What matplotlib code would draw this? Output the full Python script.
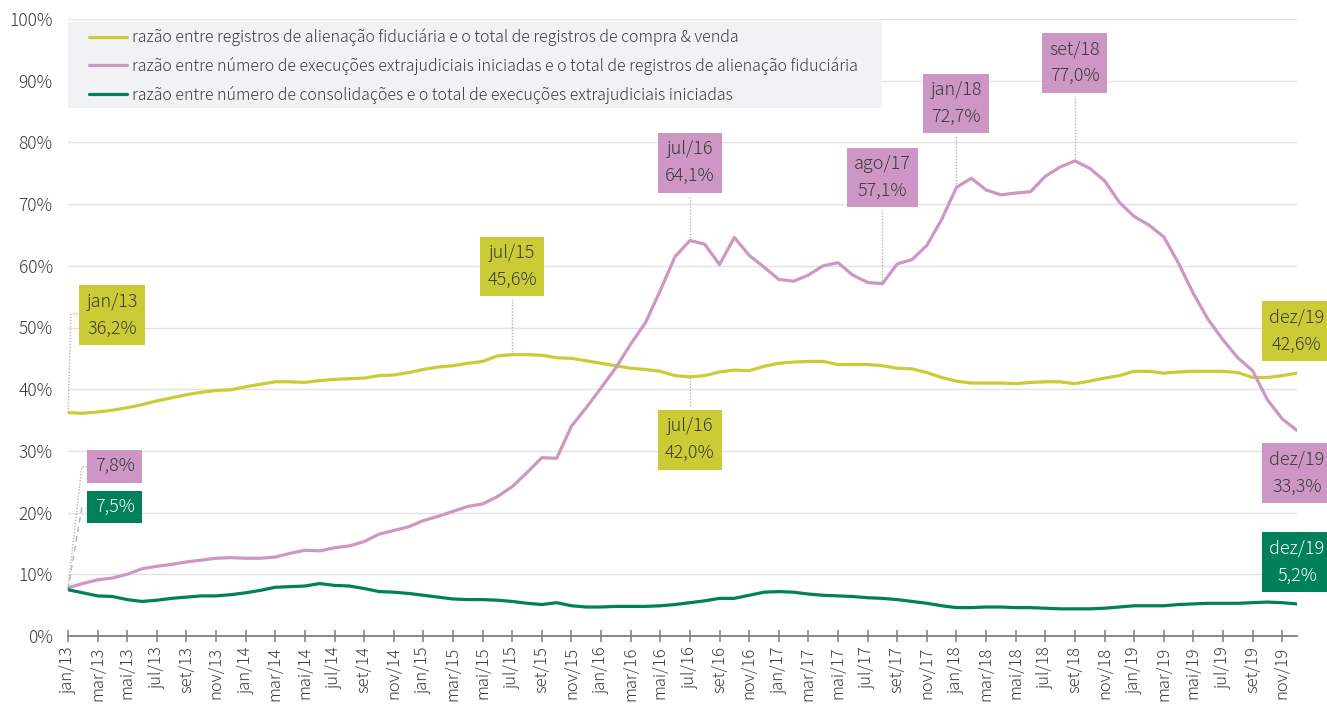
import matplotlib
matplotlib.use("Agg")
import matplotlib.pyplot as plt
from matplotlib.patches import Rectangle
import numpy as np

plt.rcParams['font.family'] = ['Noto Sans CJK JP', 'DejaVu Sans']
plt.rcParams['font.weight'] = 'light'

# Monthly series, jan/2013 .. dez/2019 (percent)
meses = ['jan', 'fev', 'mar', 'abr', 'mai', 'jun', 'jul', 'ago', 'set', 'out', 'nov', 'dez']
anos = list(range(13, 20))
rotulos = [f"{m}/{a}" for a in anos for m in meses]

alienacao_compra = [
    36.2, 36.1, 36.3, 36.6, 37.0, 37.5, 38.1, 38.6, 39.1, 39.5, 39.8, 39.9,
    40.4, 40.8, 41.2, 41.2, 41.1, 41.4, 41.6, 41.7, 41.8, 42.2, 42.3, 42.7,
    43.2, 43.6, 43.8, 44.2, 44.5, 45.4, 45.6, 45.6, 45.5, 45.1, 45.0, 44.6,
    44.2, 43.8, 43.4, 43.2, 42.9, 42.2, 42.0, 42.2, 42.8, 43.1, 43.0, 43.7,
    44.2, 44.4, 44.5, 44.5, 44.0, 44.0, 44.0, 43.8, 43.4, 43.3, 42.7, 41.9,
    41.3, 41.0, 41.0, 41.0, 40.9, 41.1, 41.2, 41.2, 40.9, 41.3, 41.8, 42.2,
    42.9, 42.9, 42.6, 42.8, 42.9, 42.9, 42.9, 42.7, 41.9, 41.9, 42.2, 42.6,
]

execucoes_alienacao = [
    7.8, 8.5, 9.1, 9.4, 10.0, 10.9, 11.3, 11.6, 12.0, 12.3, 12.6, 12.7,
    12.6, 12.6, 12.8, 13.4, 13.9, 13.8, 14.3, 14.6, 15.3, 16.5, 17.1, 17.7,
    18.7, 19.4, 20.2, 21.0, 21.4, 22.6, 24.2, 26.5, 28.9, 28.8, 34.0, 37.0,
    40.2, 43.5, 47.3, 50.8, 56.0, 61.5, 64.1, 63.5, 60.2, 64.6, 61.7, 59.8,
    57.8, 57.5, 58.5, 60.0, 60.5, 58.5, 57.3, 57.1, 60.3, 61.0, 63.3, 67.5,
    72.7, 74.2, 72.3, 71.5, 71.8, 72.0, 74.5, 76.0, 77.0, 75.8, 73.8, 70.3,
    68.0, 66.6, 64.7, 60.4, 55.5, 51.3, 48.0, 45.1, 43.0, 38.3, 35.2, 33.3,
]

consolidacoes_execucoes = [
    7.5, 7.0, 6.5, 6.4, 5.9, 5.6, 5.8, 6.1, 6.3, 6.5, 6.5, 6.7,
    7.0, 7.4, 7.9, 8.0, 8.1, 8.5, 8.2, 8.1, 7.7, 7.2, 7.1, 6.9,
    6.6, 6.3, 6.0, 5.9, 5.9, 5.8, 5.6, 5.3, 5.1, 5.4, 4.9, 4.7,
    4.7, 4.8, 4.8, 4.8, 4.9, 5.1, 5.4, 5.7, 6.1, 6.1, 6.6, 7.1,
    7.2, 7.1, 6.8, 6.6, 6.5, 6.4, 6.2, 6.1, 5.9, 5.6, 5.3, 4.9,
    4.6, 4.6, 4.7, 4.7, 4.6, 4.6, 4.5, 4.4, 4.4, 4.4, 4.5, 4.7,
    4.9, 4.9, 4.9, 5.1, 5.2, 5.3, 5.3, 5.3, 5.4, 5.5, 5.4, 5.2,
]

legendas = [
    "razão entre registros de alienação fiduciária e o total de registros de compra & venda",
    "razão entre número de execuções extrajudiciais iniciadas e o total de registros de alienação fiduciária",
    "razão entre número de consolidações e o total de execuções extrajudiciais iniciadas",
]

AMARELO = '#cbcc35'
ROSA = '#cd96c4'
VERDE = '#00805b'
TEXTO = '#3c3c3c'
GUIA = '#b5b5b5'

fig = plt.figure(figsize=(13.27, 7.04), dpi=100)
ax = fig.add_axes([68 / 1327, 1 - 636 / 704, 1229 / 1327, 617 / 704])

x = np.arange(len(rotulos))
series = [alienacao_compra, execucoes_alienacao, consolidacoes_execucoes]
cores = [AMARELO, ROSA, VERDE]
linhas = []
for y, c, lab in zip(series, cores, legendas):
    ln, = ax.plot(x, y, color=c, lw=2.3, solid_joinstyle='round',
                  solid_capstyle='round', label=lab, zorder=4)
    linhas.append(ln)

ax.set_xlim(0, len(rotulos) - 1)
ax.set_ylim(0, 100)

ax.set_yticks(np.arange(0, 101, 10))
ax.set_yticklabels([f"{v}%" for v in range(0, 101, 10)])
ax.set_xticks(x[::2])
ax.set_xticklabels(rotulos[::2], rotation=90)

ax.grid(axis='y', color='#e2e2e2', lw=1.0, zorder=0)
ax.set_axisbelow(True)
for s in ['top', 'right', 'left']:
    ax.spines[s].set_visible(False)
ax.spines['bottom'].set_color('#7f7f7f')
ax.spines['bottom'].set_linewidth(1.3)
ax.spines['bottom'].set_zorder(5)

ax.tick_params(axis='y', length=0, pad=11, labelsize=12.5, labelcolor=TEXTO)
ax.tick_params(axis='x', direction='inout', length=9, width=1.1, color='#7f7f7f',
               pad=3, labelsize=12, labelcolor=TEXTO)

# legend panel
ax.add_patch(Rectangle((0, 0.855), 0.662, 0.14, transform=ax.transAxes,
                       facecolor='#f1f2f4', edgecolor='none', zorder=2))
leg = ax.legend(handles=linhas, loc='upper left', bbox_to_anchor=(0.012, 0.995),
                frameon=False, fontsize=11.5, handlelength=2.4, handletextpad=0.3,
                labelspacing=0.66, borderaxespad=0)
for t in leg.get_texts():
    t.set_color(TEXTO)
leg.set_zorder(6)


def caixa(xc, yc, texto, cor, cor_texto=TEXTO):
    ax.text(xc, yc, texto, ha='center', va='center', fontsize=13,
            color=cor_texto, linespacing=1.65, zorder=7, clip_on=False,
            bbox=dict(boxstyle='square,pad=0.4', facecolor=cor, edgecolor='none'))


def guia(xs, ys, estilo=(0, (1, 1.2))):
    ax.plot(xs, ys, color=GUIA, lw=1.0, linestyle=estilo, zorder=3, clip_on=False)


def pct(v):
    return f"{v:.1f}%".replace('.', ',')


# start-of-period labels
guia([0, 0.2, 0.8], [alienacao_compra[0], 52.2, 52.2])
caixa(3.0, 52.0, f"{rotulos[0]}\n{pct(alienacao_compra[0])}", AMARELO)
guia([0, 0.93, 1.5], [execucoes_alienacao[0], 27.4, 27.4])
caixa(3.15, 27.5, pct(execucoes_alienacao[0]), ROSA)
guia([0, 0.93, 1.5], [consolidacoes_execucoes[0], 20.8, 20.8], estilo=(0, (4, 3)))
caixa(3.15, 20.9, pct(consolidacoes_execucoes[0]), VERDE, 'white')

# highlighted months
destaques = [
    (30, alienacao_compra, AMARELO, 59.9, TEXTO),
    (42, execucoes_alienacao, ROSA, 76.7, TEXTO),
    (42, alienacao_compra, AMARELO, 31.8, TEXTO),
    (55, execucoes_alienacao, ROSA, 74.3, TEXTO),
    (60, execucoes_alienacao, ROSA, 86.3, TEXTO),
    (68, execucoes_alienacao, ROSA, 92.9, TEXTO),
]
for i, serie, cor, yb, ct in destaques:
    v = serie[i]
    borda = yb - 5.3 if yb > v else yb + 5.3
    guia([i, i], [v, borda])
    caixa(i, yb, f"{rotulos[i]}\n{pct(v)}", cor, ct)

# end-of-period labels
n = len(rotulos) - 1
caixa(n, 49.4, f"{rotulos[n]}\n{pct(alienacao_compra[n])}", AMARELO)
caixa(n, 26.4, f"{rotulos[n]}\n{pct(execucoes_alienacao[n])}", ROSA)
caixa(n, 12.0, f"{rotulos[n]}\n{pct(consolidacoes_execucoes[n])}", VERDE, 'white')

fig.savefig('out.png', dpi=100)
